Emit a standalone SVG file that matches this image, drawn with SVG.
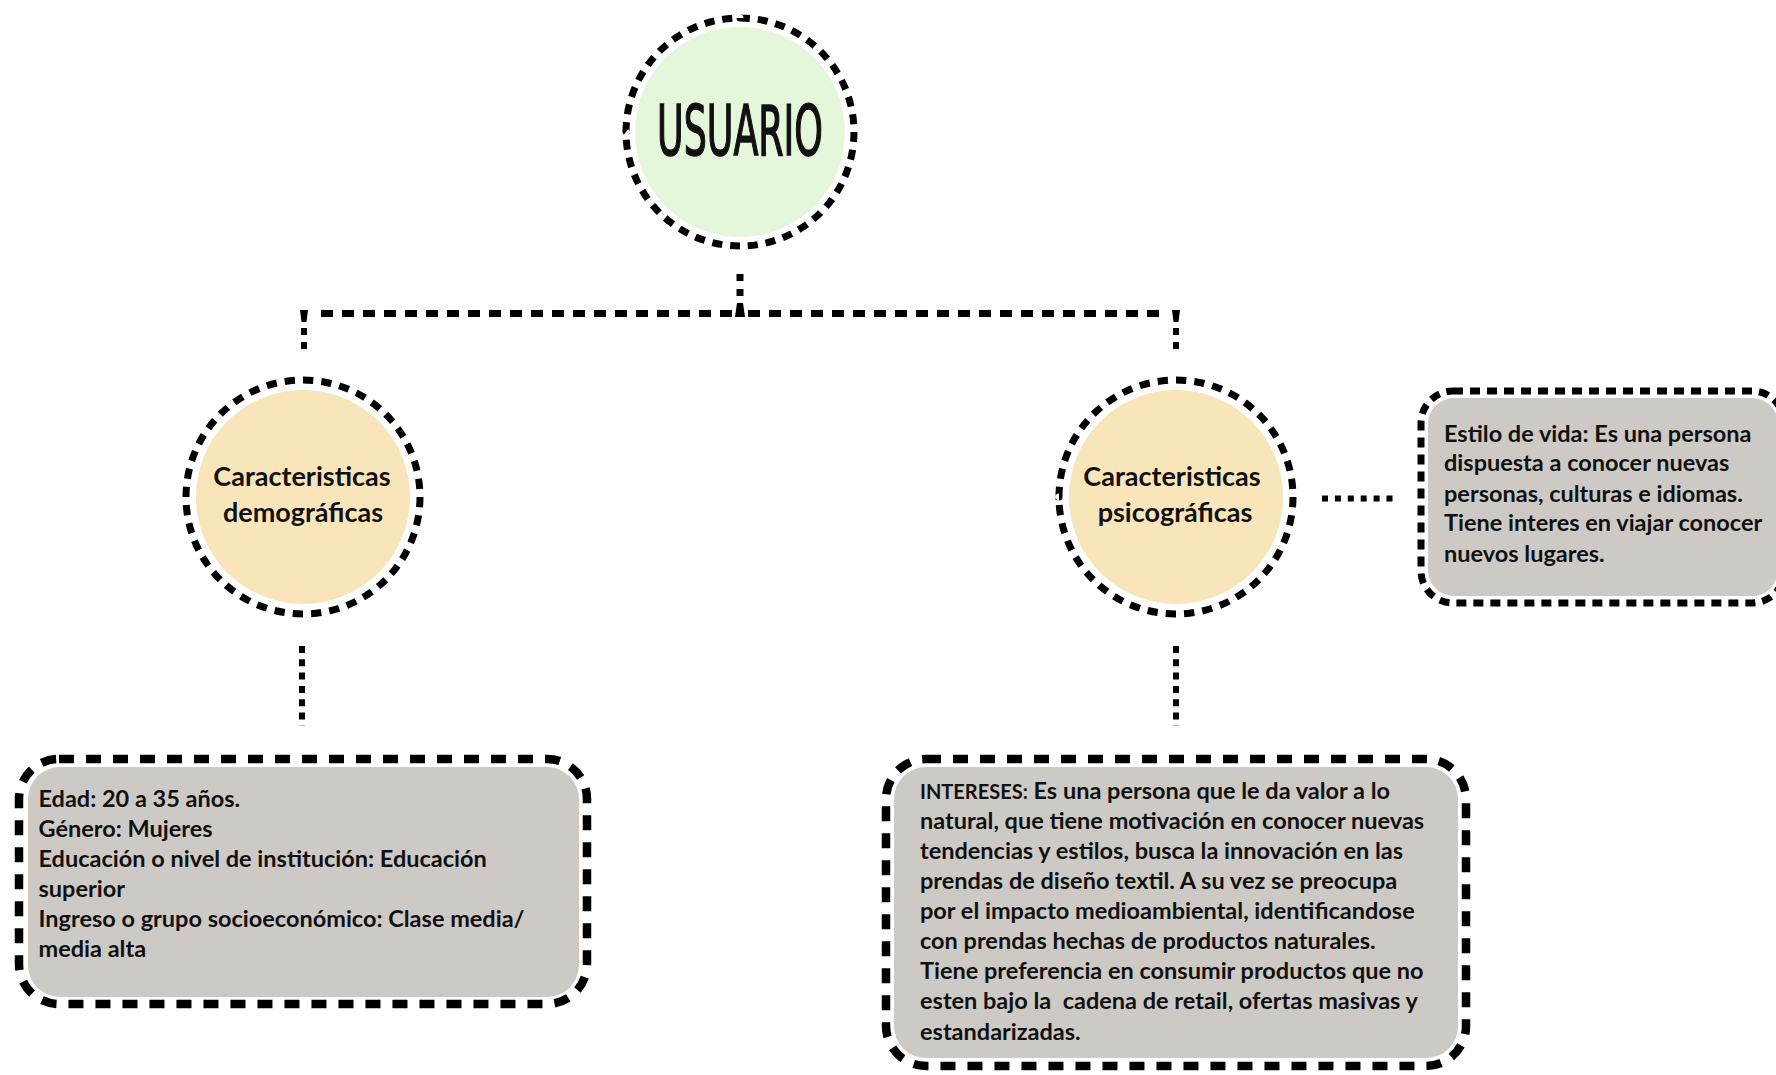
<svg xmlns="http://www.w3.org/2000/svg" width="1776" height="1075" viewBox="0 0 1776 1075">
  <style>
    .ring { fill: none; stroke: #000; stroke-width: 7; }
    .circle-ring { stroke-dasharray: 5.6 4.4; }
    .box-ring { fill: none; stroke: #000; stroke-width: 8.5; stroke-dasharray: 15 12; }
    .box-ring-small { fill: none; stroke: #000; stroke-width: 7; stroke-dasharray: 10 7; }
    .box-fill { fill: #cdcac6; }
    .hub-fill { fill: #e5f7da; }
    .cat-fill { fill: #f8e5ba; }
    .link { fill: none; stroke: #000; }
    .body { font-family: Lato, "Open Sans", "Liberation Sans", sans-serif; font-weight: 700; font-size: 23.5px; fill: #111; white-space: pre; }
    .cat { font-family: Lato, "Open Sans", "Liberation Sans", sans-serif; font-weight: 700; font-size: 27px; fill: #111; text-anchor: middle; }
    .hub { font-family: "DejaVu Sans Condensed", "Liberation Sans Narrow", "DejaVu Sans", sans-serif; font-weight: 400; font-size: 70px; fill: #111; stroke: #111; stroke-width: 1.6; }
  </style>

  <!-- connectors -->
  <g id="connectors">
    <!-- stem under USUARIO -->
    <line class="link" x1="740" y1="274" x2="740" y2="300" stroke-width="7" stroke-dasharray="7 8"/>
    <polygon points="737,303 743,303 745,317 735,317" fill="#000"/>
    <!-- horizontal bus -->
    <line class="link" x1="321" y1="313.5" x2="732" y2="313.5" stroke-width="7" stroke-dasharray="12 9"/>
    <line class="link" x1="748" y1="313.5" x2="1160" y2="313.5" stroke-width="7" stroke-dasharray="12 9"/>
    <!-- bus ends turning down -->
    <polygon points="300,310 308,310 306.5,322 301.5,322" fill="#000"/>
    <polygon points="1172,310 1180,310 1178.5,322 1173.5,322" fill="#000"/>
    <line class="link" x1="304" y1="328" x2="304" y2="350" stroke-width="6" stroke-dasharray="7 7"/>
    <line class="link" x1="1176" y1="328" x2="1176" y2="350" stroke-width="6" stroke-dasharray="7 7"/>
    <!-- circles down to detail boxes -->
    <line class="link" x1="302" y1="646" x2="302" y2="726" stroke-width="6" stroke-dasharray="7 6.3"/>
    <line class="link" x1="1176" y1="646" x2="1176" y2="726" stroke-width="6" stroke-dasharray="7 6.3"/>
    <!-- psicográficas to lifestyle box -->
    <line class="link" x1="1322" y1="498.5" x2="1395" y2="498.5" stroke-width="6" stroke-dasharray="6 6.9"/>
  </g>

  <!-- USUARIO hub -->
  <g id="node-usuario">
    <circle class="hub-fill" cx="740" cy="132" r="105"/>
    <circle class="ring circle-ring" cx="740" cy="132" r="114" pathLength="400"/>
    <text class="hub" x="657" y="155" textLength="166" lengthAdjust="spacingAndGlyphs">USUARIO</text>
  </g>

  <!-- demographic characteristics -->
  <g id="node-demograficas">
    <circle class="cat-fill" cx="303" cy="497" r="107"/>
    <circle class="ring circle-ring" cx="303" cy="497" r="117" pathLength="400"/>
    <text class="cat" x="302" y="486">Caracteristicas</text>
    <text class="cat" x="303" y="522">demográficas</text>
  </g>

  <!-- psychographic characteristics -->
  <g id="node-psicograficas">
    <circle class="cat-fill" cx="1176" cy="497" r="107"/>
    <circle class="ring circle-ring" cx="1176" cy="497" r="117" pathLength="400"/>
    <text class="cat" x="1172" y="486">Caracteristicas</text>
    <text class="cat" x="1175" y="522">psicográficas</text>
  </g>

  <!-- lifestyle box -->
  <g id="node-estilo-vida">
    <rect class="box-fill" x="1428" y="398" width="350" height="198" rx="26"/>
    <rect class="box-ring-small" x="1421" y="391" width="363" height="212" rx="32"/>
    <text class="body" x="1444" y="442">Estilo de vida: Es una persona</text>
    <text class="body" x="1444" y="471">dispuesta a conocer nuevas</text>
    <text class="body" x="1444" y="502">personas, culturas e idiomas.</text>
    <text class="body" x="1444" y="531">Tiene interes en viajar conocer</text>
    <text class="body" x="1444" y="562">nuevos lugares.</text>
  </g>

  <!-- demographic details box -->
  <g id="node-demografia-detalle">
    <rect class="box-fill" x="28" y="767" width="551" height="230" rx="32"/>
    <rect class="box-ring" x="19" y="759" width="568" height="245" rx="40"/>
    <text class="body" x="38.5" y="807">Edad: 20 a 35 años.</text>
    <text class="body" x="38.5" y="837">Género: Mujeres</text>
    <text class="body" x="38.5" y="867">Educación o nivel de institución: Educación</text>
    <text class="body" x="38.5" y="897">superior</text>
    <text class="body" x="38.5" y="927">Ingreso o grupo socioeconómico: Clase media/</text>
    <text class="body" x="38.5" y="957">media alta</text>
  </g>

  <!-- interests box -->
  <g id="node-intereses">
    <rect class="box-fill" x="894" y="767" width="564" height="291" rx="32"/>
    <rect class="box-ring" x="886" y="759" width="580" height="307" rx="40"/>
    <text class="body" x="920" y="799"><tspan font-size="20">INTERESES:</tspan> Es una persona que le da valor a lo</text>
    <text class="body" x="920" y="829">natural, que tiene motivación en conocer nuevas</text>
    <text class="body" x="920" y="859">tendencias y estilos, busca la innovación en las</text>
    <text class="body" x="920" y="889">prendas de diseño textil. A su vez se preocupa</text>
    <text class="body" x="920" y="919">por el impacto medioambiental, identificandose</text>
    <text class="body" x="920" y="949">con prendas hechas de productos naturales.</text>
    <text class="body" x="920" y="979">Tiene preferencia en consumir productos que no</text>
    <text class="body" x="920" y="1009">esten bajo la  cadena de retail, ofertas masivas y</text>
    <text class="body" x="920" y="1040">estandarizadas.</text>
  </g>
</svg>
